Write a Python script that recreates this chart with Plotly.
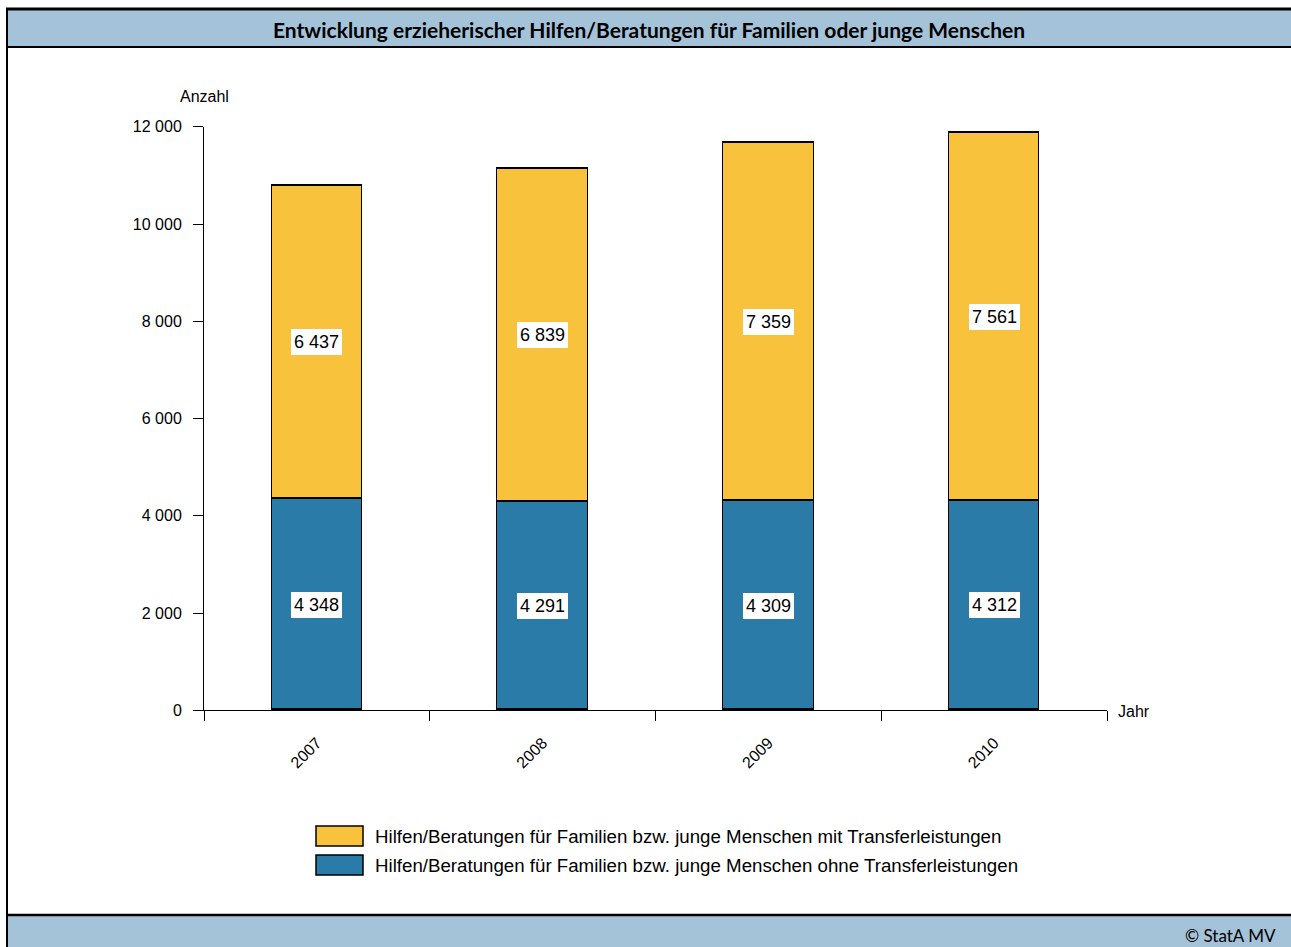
import plotly.graph_objects as go

# Chart data
years = ["2007", "2008", "2009", "2010"]
ohne_transfer = [4348, 4291, 4309, 4312]
mit_transfer = [6437, 6839, 7359, 7561]

label_mit = "Hilfen/Beratungen für Familien bzw. junge Menschen mit Transferleistungen"
label_ohne = "Hilfen/Beratungen für Familien bzw. junge Menschen ohne Transferleistungen"
title_text = "Entwicklung erzieherischer Hilfen/Beratungen für Familien oder junge Menschen"

W, H = 1291, 947
BLUE = "#2A7BA8"
YELLOW = "#F9C23D"
BANNER = "#A4C3D9"
FONT = "Liberation Sans, Arial, sans-serif"
TITLE_FONT = "Lato, Open Sans, sans-serif"

# page offset / usable height of the plotting surface
TOP_OFF = 8
EFF_H = 931


def px(x):
    return x / W


def py(y):
    return 1 - (y - TOP_OFF) / EFF_H


xpos = [i + 0.5 for i in range(len(years))]

fig = go.Figure()
fig.add_trace(go.Bar(
    x=xpos, y=ohne_transfer, width=0.4, name=label_ohne,
    marker=dict(color=BLUE, line=dict(color="black", width=1.5)),
    showlegend=False, hoverinfo="skip",
))
fig.add_trace(go.Bar(
    x=xpos, y=mit_transfer, width=0.4, name=label_mit,
    marker=dict(color=YELLOW, line=dict(color="black", width=1.5)),
    showlegend=False, hoverinfo="skip",
))


def fmt(v):
    return f"{v:,}".replace(",", " ")


annotations = []
for x, lo, hi in zip(xpos, ohne_transfer, mit_transfer):
    for yv, v in ((lo / 2, lo), (lo + hi / 2, hi)):
        annotations.append(dict(
            x=x, y=yv, xref="x", yref="y", text=fmt(v), showarrow=False,
            font=dict(family=FONT, size=18, color="black"),
            bgcolor="white", borderpad=3, borderwidth=0,
        ))

# Axis captions
annotations.append(dict(x=px(204), y=py(97), xref="paper", yref="paper", text="Anzahl",
                        showarrow=False, font=dict(family=FONT, size=16, color="black"),
                        xanchor="center", yanchor="middle"))
annotations.append(dict(x=px(1116), y=py(712), xref="paper", yref="paper", text="Jahr",
                        showarrow=False, font=dict(family=FONT, size=16, color="black"),
                        xanchor="left", yanchor="middle"))

# Title and footer
annotations.append(dict(x=px(649), y=py(30), xref="paper", yref="paper", text="<b>" + title_text + "</b>",
                        showarrow=False, font=dict(family=TITLE_FONT, size=21, color="black"),
                        xanchor="center", yanchor="middle"))
annotations.append(dict(x=px(1278), y=py(936), xref="paper", yref="paper", text="© StatA MV",
                        showarrow=False, font=dict(family=TITLE_FONT, size=17, color="black"),
                        xanchor="right", yanchor="middle"))

# Legend entries
shapes = []
for (name, color, yc) in ((label_mit, YELLOW, 837), (label_ohne, BLUE, 866)):
    shapes.append(dict(type="rect", xref="paper", yref="paper",
                       x0=px(316), x1=px(363), y0=py(yc - 10), y1=py(yc + 10),
                       fillcolor=color, line=dict(color="black", width=1.5)))
    annotations.append(dict(x=px(373), y=py(yc), xref="paper", yref="paper", text=name,
                            showarrow=False, font=dict(family=FONT, size=18.7, color="black"),
                            xanchor="left", yanchor="middle"))

# Header and footer banners with frame lines
shapes += [
    dict(type="rect", xref="paper", yref="paper", x0=px(7), x1=1.01, y0=py(47), y1=py(9),
         fillcolor=BANNER, line=dict(width=0), layer="below"),
    dict(type="rect", xref="paper", yref="paper", x0=px(7), x1=1.01, y0=py(960), y1=py(916),
         fillcolor=BANNER, line=dict(width=0), layer="below"),
    dict(type="line", xref="paper", yref="paper", x0=px(6), x1=1.01, y0=py(9), y1=py(9),
         line=dict(color="black", width=3)),
    dict(type="line", xref="paper", yref="paper", x0=px(6), x1=1.01, y0=py(47), y1=py(47),
         line=dict(color="black", width=2)),
    dict(type="line", xref="paper", yref="paper", x0=px(6), x1=1.01, y0=py(916), y1=py(916),
         line=dict(color="black", width=2.5)),
    dict(type="line", xref="paper", yref="paper", x0=px(7), x1=px(7), y0=py(8), y1=py(960),
         line=dict(color="black", width=2)),
]

fig.update_layout(
    width=W, height=H, autosize=False,
    margin=dict(l=0, r=0, t=0, b=0),
    paper_bgcolor="white", plot_bgcolor="white",
    barmode="stack", bargap=0,
    separators=", ",
    font=dict(family=FONT, size=16, color="black"),
    annotations=annotations, shapes=shapes,
    xaxis=dict(
        domain=[px(204), px(1107)], range=[0, 4], showgrid=False, zeroline=False,
        showline=True, linecolor="black", linewidth=1,
        tickmode="array", tickvals=xpos, ticktext=years, ticks="",
        tickangle=-45, ticklabelstandoff=16,
        tickfont=dict(family=FONT, size=16, color="black"),
        minor=dict(tickmode="array", tickvals=[0, 1, 2, 3, 4], ticks="outside",
                   ticklen=10, tickcolor="black", tickwidth=1, showgrid=False),
    ),
    yaxis=dict(
        domain=[py(711), py(127)], range=[0, 12000], showgrid=False, zeroline=False,
        showline=True, linecolor="black", linewidth=1,
        tickmode="array", tickvals=[0, 2000, 4000, 6000, 8000, 10000, 12000],
        tickformat=",d", ticks="outside", ticklen=10, tickcolor="black",
        ticklabelstandoff=8,
        tickfont=dict(family=FONT, size=16, color="black"),
    ),
)

fig.write_html("out.html")
